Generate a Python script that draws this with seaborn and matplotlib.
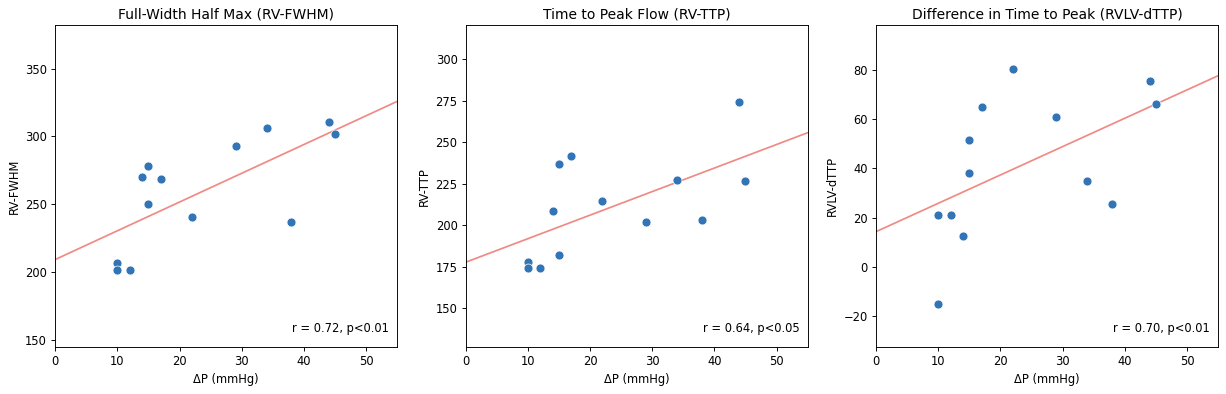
import numpy as np
import matplotlib
matplotlib.use("Agg")
import matplotlib.pyplot as plt
import seaborn as sns

# pressure gradient for each patient
delta_p = [10, 10, 12, 14, 15, 15, 17, 22, 29, 34, 38, 44, 45]

rv_fwhm = [207, 202, 202, 270, 278, 250, 269, 241, 293, 306, 237, 311, 302]
rv_ttp = [177.5, 174, 174, 208.5, 237, 182, 241.5, 214.5, 202, 227, 203, 274, 226.5]
rvlv_dttp = [21, -15, 21, 12.5, 51.5, 38, 65, 80.5, 61, 35, 25.5, 75.5, 66]

titles = ["Full-Width Half Max (RV-FWHM)", "Time to Peak Flow (RV-TTP)",
          "Difference in Time to Peak (RVLV-dTTP)"]
ylabels = ["RV-FWHM", "RV-TTP", "RVLV-dTTP"]
stats = ["r = 0.72, p<0.01", "r = 0.64, p<0.05", "r = 0.70, p<0.01"]
ylims = [(145, 382), (126.5, 320.5), (-32.6, 98.3)]

dpi = 83
fig, axes = plt.subplots(1, 3, figsize=(1226 / dpi, 394 / dpi), dpi=dpi)
plt.subplots_adjust(left=0.045, right=0.9935, top=0.9365, bottom=0.119, wspace=0.2)

xs = np.array(delta_p, dtype=float)
for ax, ys, title, ylab, txt, ylim in zip(axes, [rv_fwhm, rv_ttp, rvlv_dttp],
                                          titles, ylabels, stats, ylims):
    ys = np.array(ys, dtype=float)
    # linear fit across full x range
    slope, icpt = np.polyfit(xs, ys, 1)
    xline = np.array([0, 55])
    sns.lineplot(x=xline, y=slope * xline + icpt, ax=ax, color="#ef8a85", linewidth=1.5)
    sns.scatterplot(x=xs, y=ys, ax=ax, color="#3274b5", s=60, edgecolor="white",
                    linewidth=0.6, zorder=3)
    ax.set_xlim(0, 55)
    ax.set_ylim(*ylim)
    ax.set_title(title)
    ax.set_xlabel("\u0394P (mmHg)")
    ax.set_ylabel(ylab)
    ax.text(0.977, 0.037, txt, transform=ax.transAxes, ha="right", va="bottom")

fig.savefig("out.png", dpi=dpi)
